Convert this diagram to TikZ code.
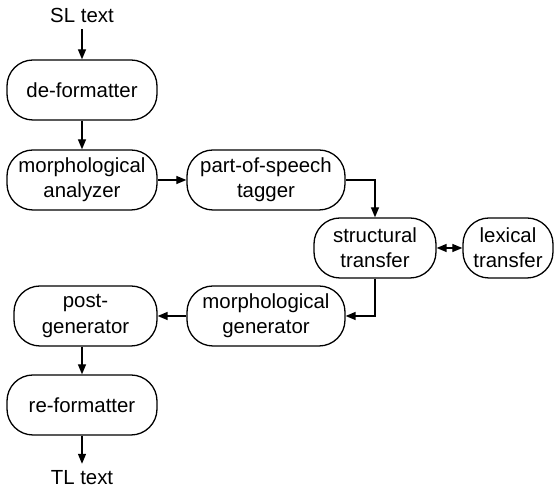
\documentclass[tikz,border=0pt]{standalone}
\usepackage{fontspec}
\setmainfont{Liberation Sans}
\usetikzlibrary{arrows.meta}
\tikzset{
 stage/.style={draw, line width=.65pt, rounded corners=13pt, minimum height=30pt, inner sep=0pt, align=center},
 flow/.style={line width=.65pt, ->}
}
\begin{document}
\begin{tikzpicture} [x=.5pt, y=-.5pt, font=\fontsize{10.2}{12.6}\selectfont, >={Triangle[length=5pt,width=4pt]}]
\useasboundingbox (0,0) rectangle (554,490);
\node (sl) at (82,15) {SL text};
\node[stage, minimum width=75pt] (deform) at (82,90) {de-formatter};
\node[stage, minimum width=75pt] (analyzer) at (82,180) {morphological\\analyzer};
\node[stage, minimum width=79pt] (tagger) at (266,180) {part-of-speech\\tagger};
\node[stage, minimum width=61pt] (struct) at (375,248) {structural\\transfer};
\node[stage, minimum width=45pt] (lexical) at (508,248) {lexical\\transfer};
\node[stage, minimum width=79pt] (generator) at (266,316) {morphological\\generator};
\node[stage, minimum width=71.5pt] (postgen) at (85.5,316) {post-\\generator};
\node[stage, minimum width=75pt] (reform) at (82,405) {re-formatter};
\node (tl) at (82,478) {TL text};
\draw[flow] (sl) -- (deform);
\draw[flow] (deform) -- (analyzer);
\draw[flow] (analyzer) -- (tagger);
\draw[flow] (tagger.east) -| (struct.north);
\draw[flow, <->] (struct) -- (lexical);
\draw[flow] (struct.south) |- (generator.east);
\draw[flow] (generator) -- (postgen);
\draw[flow] (postgen.south -| reform.north) -- (reform);
\draw[flow] (reform) -- (tl);
\end{tikzpicture}
\end{document}
